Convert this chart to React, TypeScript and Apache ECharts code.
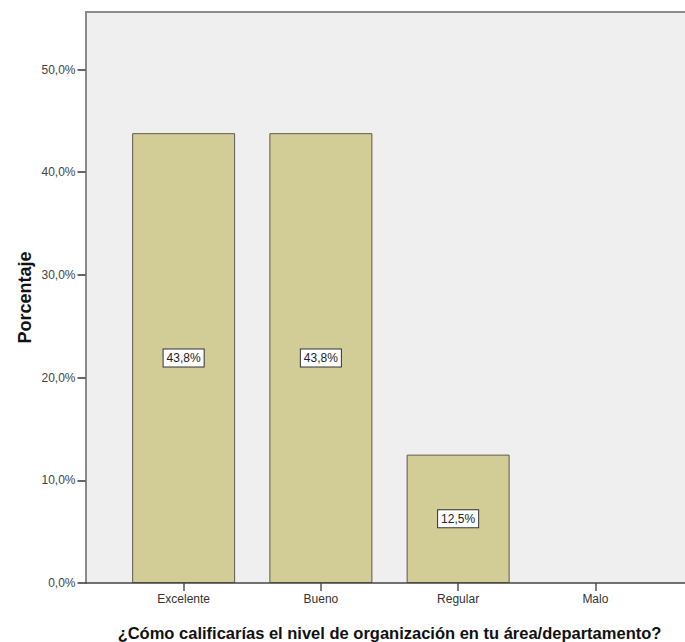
import React, { useEffect, useRef } from "react";
import * as echarts from "echarts";

// Survey answers and their share of respondents (%)
const categories = ["Excelente", "Bueno", "Regular", "Malo"];
const percentages = [43.8, 43.8, 12.5, 0];
const yTickValues = [0, 10, 20, 30, 40, 50];
const yAxisTitle = "Porcentaje";
const xAxisTitle = "¿Cómo calificarías el nivel de organización en tu área/departamento?";

const W = 685;
const H = 642;
const FRAME_LEFT = 85.5;
const FRAME_TOP = 12;
const AXIS_BOTTOM = 59;

const smallFont = '"Liberation Sans", Arial, sans-serif';
const boldFont = '"Liberation Sans", Arial, sans-serif';

const pct = (v: number) => v.toFixed(1).replace(".", ",") + "%";

export default function App() {
  const ref = useRef<HTMLDivElement>(null);

  useEffect(() => {
    document.body.style.margin = "0";
    const chart = echarts.init(ref.current!, null, { renderer: "svg" });
    chart.setOption({
      animation: false,
      backgroundColor: "#ffffff",
      grid: {
        left: 115,
        right: 21,
        top: FRAME_TOP,
        bottom: AXIS_BOTTOM,
        containLabel: false,
        outerBoundsMode: "none",
      },
      graphic: [
        {
          type: "rect",
          z: -10,
          silent: true,
          shape: { x: FRAME_LEFT, y: FRAME_TOP, width: W - FRAME_LEFT + 5, height: H - AXIS_BOTTOM - FRAME_TOP },
          style: { fill: "#efefef" },
        },
        {
          type: "line",
          z: -5,
          silent: true,
          shape: { x1: FRAME_LEFT, y1: FRAME_TOP, x2: W + 5, y2: FRAME_TOP },
          style: { stroke: "#8a8a8a", lineWidth: 2 },
        },
        {
          // dark baseline across the whole frame
          type: "line",
          z: 100,
          silent: true,
          shape: { x1: FRAME_LEFT, y1: H - AXIS_BOTTOM, x2: W + 5, y2: H - AXIS_BOTTOM },
          style: { stroke: "#444", lineWidth: 1.5 },
        },
      ],
      xAxis: {
        type: "category",
        data: categories,
        boundaryGap: true,
        name: xAxisTitle,
        nameLocation: "middle",
        nameGap: 41,
        nameMoveOverlap: false,
        nameTextStyle: { fontFamily: boldFont, fontWeight: "bold", fontSize: 16.5, color: "#111" },
        axisLine: { show: false },
        axisTick: { show: true, alignWithLabel: true, length: 8, lineStyle: { color: "#555", width: 1.5 } },
        axisLabel: { fontFamily: smallFont, fontSize: 12, color: "#333", margin: 10 },
      },
      yAxis: {
        type: "value",
        min: 0,
        max: 55.6,
        interval: 10,
        offset: 115 - FRAME_LEFT,
        name: yAxisTitle,
        nameLocation: "middle",
        nameGap: 52,
        nameMoveOverlap: false,
        nameTextStyle: { fontFamily: boldFont, fontWeight: "bold", fontSize: 18, color: "#111" },
        axisLine: { show: true, lineStyle: { color: "#8a8a8a", width: 2 } },
        axisTick: { show: true, length: 8, customValues: yTickValues, lineStyle: { color: "#333", width: 1.5 } },
        axisLabel: {
          fontFamily: smallFont,
          fontSize: 12,
          color: "#444",
          margin: 10,
          customValues: yTickValues,
          formatter: (v: number) => pct(v),
        },
        splitLine: { show: false },
      },
      series: [
        {
          type: "bar",
          barWidth: 103,
          data: percentages.map((v) => ({
            value: v,
            label: { show: v > 0 },
            itemStyle: v > 0 ? {} : { borderWidth: 0 },
          })),
          itemStyle: { color: "#d2cd97", borderColor: "#5b5a48", borderWidth: 1 },
          label: {
            show: true,
            position: "inside",
            formatter: (p: any) => pct(p.value),
            fontFamily: smallFont,
            fontSize: 12,
            color: "#222",
            backgroundColor: "#ffffff",
            borderColor: "#333",
            borderWidth: 1,
            padding: [3, 3, 2, 3],
          },
        },
      ],
    });
    return () => chart.dispose();
  }, []);

  return (
    <div
      ref={ref}
      style={{ position: "absolute", left: 0, top: 0, width: W, height: H }}
    />
  );
}
